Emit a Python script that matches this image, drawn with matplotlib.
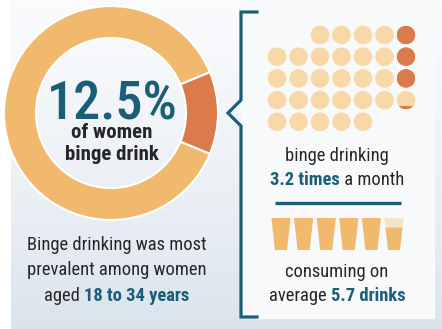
import numpy as np
import matplotlib.pyplot as plt
from matplotlib.colors import LinearSegmentedColormap
from matplotlib.patches import Circle, Polygon, Rectangle

pct_women = 12.5
times_per_month = 3.2
days_per_row = [5, 7, 7, 7, 5]      # a 31-day month laid out as a calendar
drinks_per_binge = 5.7
n_cups = 6

TEAL = "#1b5e78"
DARK = "#262626"
LIGHT_OR = "#f0b96e"
DARK_OR = "#db7a4b"
PEACH = "#f9d8a8"
PALE = "#f3e4c6"
FONT = ["Roboto Condensed", "DejaVu Sans"]
STRETCH = "condensed"

fig = plt.figure(figsize=(4.42, 3.29), dpi=100)
ax = fig.add_axes([0, 0, 1, 1])
W, H = 442, 329


def mixed_line(parts, xc, y, size):
    """Draw a centred line made of (text, colour, weight) pieces."""
    r = fig.canvas.get_renderer()
    texts, widths = [], []
    for s, c, w in parts:
        t = ax.text(0, y, s, color=c, fontweight=w, fontsize=size,
                    family=FONT, fontstretch=STRETCH,
                    ha="left", va="baseline", zorder=5)
        widths.append(t.get_window_extent(r).width)
        texts.append(t)
    x = xc - sum(widths) / 2
    for t, w in zip(texts, widths):
        t.set_x(x)
        x += w


# background: white strip, gradient panel, white right card
grad = LinearSegmentedColormap.from_list("bg", ["#fafbfd", "#eef2f6", "#dbe4ed"])
ax.imshow(np.linspace(0, 1, 200)[:, None], cmap=grad, aspect="auto",
          extent=(11, W, H, 0), zorder=0)
ax.add_patch(Rectangle((241, 0), 434 - 241, 318, color="#f8f9fb", zorder=1))

# donut
ax.pie([pct_women, 100 - pct_women], colors=[DARK_OR, LIGHT_OR],
       startangle=-pct_women / 100 * 180, center=(111, 113), radius=107,
       wedgeprops=dict(width=32, edgecolor="white", linewidth=1.5))
ax.text(112, 120, f"{pct_women}%", color=TEAL, fontsize=39, family=FONT,
        fontstretch=STRETCH, fontweight="medium",
        ha="center", va="baseline", zorder=5)
mixed_line([("of women", DARK, "bold")], 112, 138, 15)
mixed_line([("binge drink", DARK, "bold")], 112, 160, 15)

mixed_line([("Binge drinking was most", DARK, "normal")], 117, 250, 13.3)
mixed_line([("prevalent among women", DARK, "normal")], 117, 275, 13.3)
mixed_line([("aged ", DARK, "normal"), ("18 to 34 years", TEAL, "bold")], 117, 301, 13.3)

# bracket with chevron
bx = [257, 241, 241, 228, 241, 241, 257]
by = [12, 12, 100, 113, 126, 317, 317]
ax.plot(bx, by, color=TEAL, lw=2.3, solid_joinstyle="miter", zorder=4)

# month calendar of dots
dark_fill = np.clip(times_per_month - np.arange(4), 0, 1)
r = 9.3
for row, n in enumerate(days_per_row):
    cols = range(7 - n, 7) if row == 0 else range(n)
    for c in cols:
        cx, cy = 277 + c * 21.5, 35 + row * 21.7
        circ = Circle((cx, cy), r, color=PEACH, lw=0, zorder=3)
        ax.add_patch(circ)
        if c == 6 and row < len(dark_fill) and dark_fill[row] > 0:
            f = dark_fill[row]
            part = Rectangle((cx - r, cy + r - 2 * r * f), 2 * r, 2 * r * f,
                             color=DARK_OR, lw=0, zorder=3.5)
            ax.add_patch(part)
            part.set_clip_path(circ)

mixed_line([("binge drinking", DARK, "normal")], 337, 161, 13.3)
mixed_line([("3.2 times", TEAL, "bold"), (" a month", DARK, "normal")], 337, 185, 13.3)
ax.plot([275, 401], [203, 203], color=TEAL, lw=2.4, solid_capstyle="butt", zorder=4)

# cups
top, bot, htop, hbot = 218, 250, 9.5, 6.0
for i in range(n_cups):
    cx = 281 + i * 22.6
    f = float(np.clip(drinks_per_binge - i, 0, 1))
    ax.add_patch(Polygon([(cx - htop, top), (cx + htop, top), (cx + hbot, bot),
                          (cx - hbot, bot)], color=PALE, lw=0, zorder=3))
    yf = bot - f * (bot - top)
    hw = hbot + (htop - hbot) * f
    ax.add_patch(Polygon([(cx - hw, yf), (cx + hw, yf), (cx + hbot, bot),
                          (cx - hbot, bot)], color=LIGHT_OR, lw=0, zorder=3.5))

mixed_line([("consuming on", DARK, "normal")], 337, 277, 13.3)
mixed_line([("average ", DARK, "normal"), ("5.7 drinks", TEAL, "bold")], 337, 301, 13.3)

ax.set_xlim(0, W)
ax.set_ylim(H, 0)
ax.set_aspect("auto")
ax.axis("off")
fig.savefig("out.png", dpi=100, facecolor="white")
